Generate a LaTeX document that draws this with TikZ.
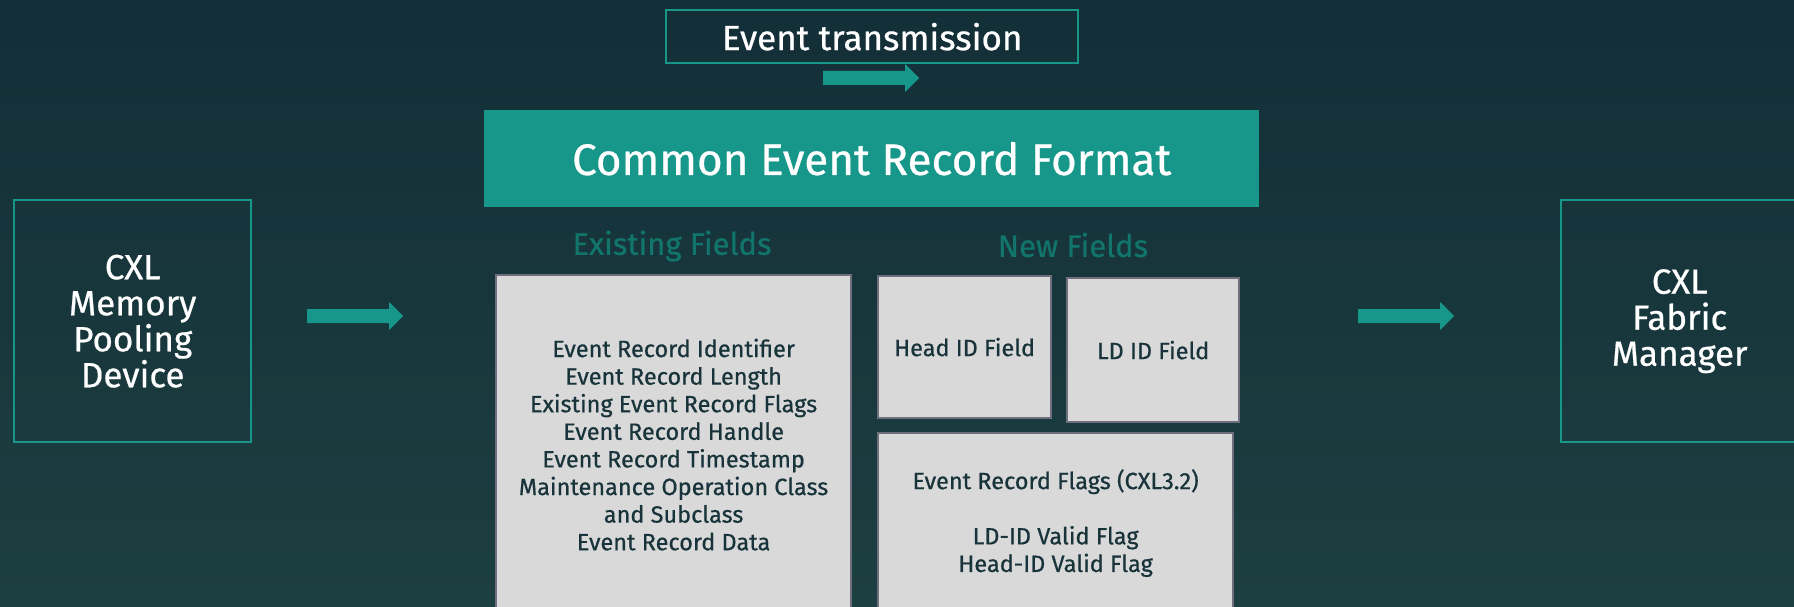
\documentclass[tikz,border=0pt]{standalone}
\usepackage{fontspec}
\setmainfont{Fira Sans}[FakeBold=0.6]
\definecolor{bgtop}{HTML}{132E37}
\definecolor{bgbot}{HTML}{1C3F41}
\definecolor{tealc}{HTML}{17978A}
\definecolor{tealtxt}{HTML}{12756B}
\definecolor{boxfill}{HTML}{D9D9D9}
\definecolor{boxline}{HTML}{6E6E7E}
\definecolor{darktxt}{HTML}{18343A}
\tikzset{
  outline/.style={draw=tealc, line width=2.4pt, fill=none, inner sep=0pt,
    anchor=north west, text=white, align=center,
    font=\fontsize{35}{36}\selectfont},
  field/.style={draw=boxline, line width=2.2pt, fill=boxfill, inner sep=0pt,
    anchor=north west, text=darktxt, align=center,
    font=\fontsize{23.5}{27.6}\selectfont},
  grouplabel/.style={text=tealtxt, font=\fontsize{31}{33}\selectfont},
  blockarrow/.pic={
    \fill[tealc] (0,-7) -- (82,-7) -- (82,-14) -- (96,0) -- (82,14)
      -- (82,7) -- (0,7) -- cycle;
  }
}
\begin{document}
\begin{tikzpicture}[x=1pt,y=-1pt]
  % background
  \shade[top color=bgtop, bottom color=bgbot] (0,0) rectangle (1794,607);
  \clip (0,0) rectangle (1794,607);

  % header
  \node[outline, minimum width=412pt, minimum height=53pt]
    (tx) at (665,9) {Event transmission};
  \pic at (823,78) {blockarrow};

  \node[fill=tealc, inner sep=0pt, anchor=north west, minimum width=775pt,
    minimum height=97pt, text=white, font=\fontsize{44}{46}\selectfont]
    (cerf) at (484,110) {Common Event Record Format};

  % end points
  \node[outline, minimum width=237pt, minimum height=242pt]
    (dev) at (13,199) {CXL\\Memory\\Pooling\\Device};
  \node[outline, minimum width=237pt, minimum height=242pt]
    (fm) at (1560,199) {CXL\\Fabric\\Manager};
  \pic at (307,316) {blockarrow};
  \pic at (1358,316) {blockarrow};

  % field groups
  \node[grouplabel] (exl) at (672,246) {Existing Fields};
  \node[grouplabel] (nwl) at (1073,245) {New Fields};

  \node[field, minimum width=355pt, minimum height=339pt] (exist) at (495,274)
    {Event Record Identifier\\Event Record Length\\Existing Event Record Flags\\
     Event Record Handle\\Event Record Timestamp\\Maintenance Operation Class\\
     and Subclass\\Event Record Data};
  \node[field, minimum width=173pt, minimum height=142pt] (head) at (877,275)
    {Head ID Field};
  \node[field, minimum width=172pt, minimum height=144pt] (ld) at (1066,277)
    {LD ID Field};
  \node[field, minimum width=355pt, minimum height=180pt] (flags) at (877,432)
    {Event Record Flags (CXL3.2)\\[27.6pt]LD-ID Valid Flag\\Head-ID Valid Flag};
\end{tikzpicture}
\end{document}
